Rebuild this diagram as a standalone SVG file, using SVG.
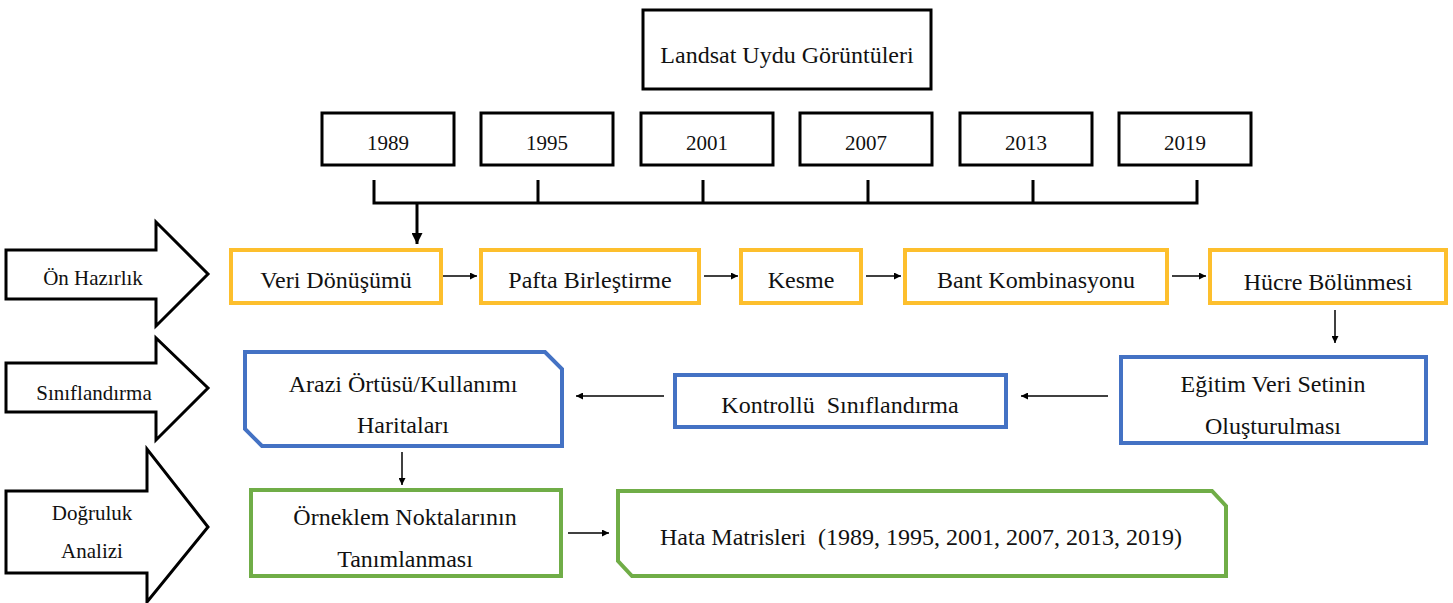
<svg xmlns="http://www.w3.org/2000/svg" width="1453" height="603" viewBox="0 0 1453 603" font-family="'Liberation Serif', 'Times New Roman', 'DejaVu Serif', serif">
<style>
text{font-family:'Liberation Serif','Times New Roman','DejaVu Serif',serif;fill:#111;text-anchor:middle}
.t24{font-size:24px}
.t21{font-size:21px}
.blk{fill:#fff;stroke:#000;stroke-width:3}
.yel{fill:#fff;stroke:#FDBF2D;stroke-width:4}
.blu{fill:#fff;stroke:#4472C4;stroke-width:4}
.grn{fill:#fff;stroke:#70AD47;stroke-width:4}
.big{fill:#fff;stroke:#000;stroke-width:3;stroke-linejoin:miter}
.ln{fill:none;stroke:#000;stroke-width:1.5}
.thick{fill:none;stroke:#000;stroke-width:3}
</style>
<defs>
<marker id="ah" viewBox="0 0 10 10" refX="10" refY="5" markerWidth="7" markerHeight="7" markerUnits="userSpaceOnUse" orient="auto">
<path d="M0,0 L10,5 L0,10 z" fill="#000"/>
</marker>
<marker id="ahs" viewBox="0 0 10 10" refX="10" refY="5" markerWidth="11" markerHeight="11" markerUnits="userSpaceOnUse" orient="auto">
<path d="M0,0 L10,5 L0,10 z" fill="#000"/>
</marker>
</defs>

<g id="stage-on-hazirlik">
<polygon class="big" points="6,250 156,250 156,222 208,274 156,326 156,299 6,299"/>
<text class="t21" x="93" y="285">Ön Hazırlık</text>
</g>
<g id="stage-siniflandirma">
<polygon class="big" points="6,363 156,363 156,338 208,388 156,440 156,412 6,412"/>
<text class="t21" x="94" y="400">Sınıflandırma</text>
</g>
<g id="stage-dogruluk">
<polygon class="big" points="6,491 147,491 147,449 208,527 147,602 147,573 6,573"/>
<text class="t21" x="92" y="520">Doğruluk</text>
<text class="t21" x="92" y="558">Analizi</text>
</g>

<g id="landsat">
<rect class="blk" x="643" y="10" width="288" height="79"/>
<text class="t24" x="787" y="63">Landsat Uydu Görüntüleri</text>
</g>
<g id="y1989"><rect class="blk" x="322" y="113" width="132" height="52"/><text class="t21" x="388" y="150">1989</text></g>
<g id="y1995"><rect class="blk" x="481" y="113" width="132" height="52"/><text class="t21" x="547" y="150">1995</text></g>
<g id="y2001"><rect class="blk" x="641" y="113" width="132" height="52"/><text class="t21" x="707" y="150">2001</text></g>
<g id="y2007"><rect class="blk" x="800" y="113" width="132" height="52"/><text class="t21" x="866" y="150">2007</text></g>
<g id="y2013"><rect class="blk" x="960" y="113" width="132" height="52"/><text class="t21" x="1026" y="150">2013</text></g>
<g id="y2019"><rect class="blk" x="1119" y="113" width="132" height="52"/><text class="t21" x="1185" y="150">2019</text></g>

<g id="veri-donusumu"><rect class="yel" x="231" y="250" width="210" height="53"/><text class="t24" x="336" y="288">Veri Dönüşümü</text></g>
<g id="pafta"><rect class="yel" x="481" y="250" width="218" height="53"/><text class="t24" x="590" y="288">Pafta Birleştirme</text></g>
<g id="kesme"><rect class="yel" x="741" y="250" width="120" height="53"/><text class="t24" x="801" y="288">Kesme</text></g>
<g id="bant"><rect class="yel" x="905" y="250" width="262" height="53"/><text class="t24" x="1036" y="288">Bant Kombinasyonu</text></g>
<g id="hucre"><rect class="yel" x="1210" y="250" width="236" height="53"/><text class="t24" x="1328" y="290">Hücre Bölünmesi</text></g>

<g id="egitim"><rect class="blu" x="1121" y="357" width="305" height="86"/><text class="t24" x="1273" y="392">Eğitim Veri Setinin</text><text class="t24" x="1273" y="434">Oluşturulması</text></g>
<g id="kontrollu"><rect class="blu" x="675" y="375" width="331" height="52"/><text class="t24" x="840" y="413" xml:space="preserve">Kontrollü  Sınıflandırma</text></g>
<g id="arazi"><path class="blu" d="M245,352 L545,352 L562,369 L562,446 L262,446 L245,429 Z"/><text class="t24" x="403" y="392">Arazi Örtüsü/Kullanımı</text><text class="t24" x="403" y="433">Haritaları</text></g>

<g id="orneklem"><rect class="grn" x="251" y="490" width="310" height="86"/><text class="t24" x="405" y="525">Örneklem Noktalarının</text><text class="t24" x="405" y="567">Tanımlanması</text></g>
<g id="hata"><path class="grn" d="M618,491 L1212,491 L1226,506 L1226,576 L632,576 L618,561 Z"/><text class="t24" x="921" y="545" xml:space="preserve">Hata Matrisleri  (1989, 1995, 2001, 2007, 2013, 2019)</text></g>

<g id="connectors">
<path class="thick" d="M374,180 V203 H1197 V180"/>
<path class="thick" d="M538,180 V203 M703,180 V203 M868,180 V203 M1033,180 V203"/>
<path class="thick" d="M417,203 V244" marker-end="url(#ahs)"/>
<path class="ln" d="M443,276 H477" marker-end="url(#ah)"/>
<path class="ln" d="M704,276 H738" marker-end="url(#ah)"/>
<path class="ln" d="M866,276 H901" marker-end="url(#ah)"/>
<path class="ln" d="M1172,276 H1206" marker-end="url(#ah)"/>
<path class="ln" d="M1335,310 V343" marker-end="url(#ah)"/>
<path class="ln" d="M1108,396 H1021" marker-end="url(#ah)"/>
<path class="ln" d="M664,396 H576" marker-end="url(#ah)"/>
<path class="ln" d="M402,452 V485" marker-end="url(#ah)"/>
<path class="ln" d="M568,533 H609" marker-end="url(#ah)"/>
</g>
</svg>
